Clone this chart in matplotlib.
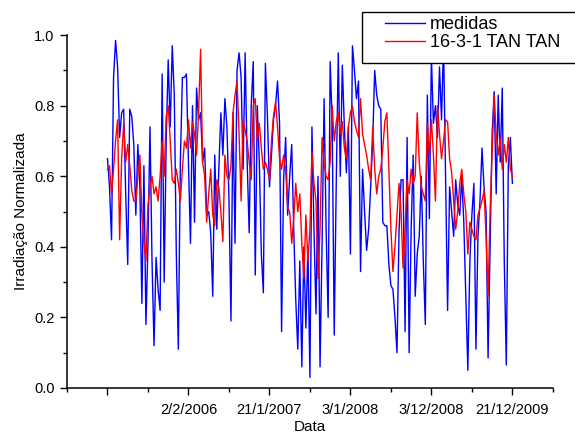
import numpy as np
import matplotlib
matplotlib.use('Agg')
import matplotlib.pyplot as plt
from matplotlib.patches import Rectangle

# tick labels (one labelled date every 40 samples)
tick_dates = ['', '2/2/2006', '21/1/2007', '3/1/2008', '3/12/2008', '21/12/2009']
step = 40

# measured normalised irradiation
medidas = [
    0.65, 0.57, 0.42, 0.88, 0.985, 0.91, 0.71, 0.78, 0.79, 0.55,
    0.35, 0.79, 0.77, 0.69, 0.49, 0.69, 0.57, 0.24, 0.63, 0.18,
    0.41, 0.74, 0.36, 0.12, 0.37, 0.28, 0.22, 0.89, 0.30, 0.70,
    0.93, 0.74, 0.97, 0.83, 0.38, 0.11, 0.64, 0.88, 0.88, 0.89,
    0.64, 0.41, 0.80, 0.47, 0.85, 0.76, 0.78, 0.64, 0.68, 0.49,
    0.50, 0.44, 0.26, 0.66, 0.45, 0.62, 0.78, 0.66, 0.82, 0.74,
    0.54, 0.19, 0.78, 0.41, 0.90, 0.95, 0.88, 0.62, 0.95, 0.64,
    0.44, 0.80, 0.925, 0.32, 0.80, 0.64, 0.38, 0.27, 0.92, 0.77,
    0.57, 0.66, 0.76, 0.80, 0.87, 0.75, 0.16, 0.59, 0.71, 0.49,
    0.60, 0.69, 0.45, 0.25, 0.11, 0.36, 0.06, 0.40, 0.17, 0.40,
    0.03, 0.74, 0.45, 0.21, 0.60, 0.06, 0.41, 0.82, 0.45, 0.20,
    0.925, 0.75, 0.15, 0.58, 0.95, 0.60, 0.915, 0.74, 0.61, 0.74,
    0.38, 0.97, 0.90, 0.82, 0.87, 0.33, 0.62, 0.50, 0.39, 0.45,
    0.57, 0.70, 0.90, 0.83, 0.80, 0.79, 0.47, 0.46, 0.46, 0.35,
    0.29, 0.28, 0.20, 0.10, 0.44, 0.59, 0.59, 0.16, 0.71, 0.10,
    0.45, 0.66, 0.26, 0.38, 0.43, 0.60, 0.36, 0.18, 0.83, 0.48,
    0.94, 0.75, 0.80, 0.71, 0.91, 0.76, 0.98, 0.61, 0.22, 0.57,
    0.50, 0.43, 0.59, 0.52, 0.49, 0.60, 0.47, 0.26, 0.05, 0.36,
    0.49, 0.58, 0.11, 0.43, 0.53, 0.68, 0.57, 0.50, 0.085, 0.40,
    0.72, 0.84, 0.55, 0.83, 0.64, 0.85, 0.36, 0.065, 0.63, 0.71,
    0.58,
]

# network output 16-3-1 TAN TAN
rede = [
    0.62, 0.63, 0.55, 0.62, 0.70, 0.76, 0.42, 0.65, 0.75, 0.64,
    0.69, 0.63, 0.56, 0.53, 0.53, 0.60, 0.66, 0.49, 0.41, 0.36,
    0.52, 0.57, 0.60, 0.55, 0.57, 0.53, 0.60, 0.70, 0.60, 0.77,
    0.80, 0.70, 0.59, 0.58, 0.62, 0.58, 0.53, 0.62, 0.70, 0.68,
    0.76, 0.68, 0.755, 0.72, 0.66, 0.78, 0.96, 0.64, 0.60, 0.47,
    0.55, 0.62, 0.49, 0.46, 0.59, 0.57, 0.50, 0.415, 0.66, 0.60,
    0.59, 0.63, 0.78, 0.83, 0.87, 0.72, 0.53, 0.76, 0.73, 0.70,
    0.64, 0.59, 0.80, 0.82, 0.70, 0.75, 0.68, 0.62, 0.64, 0.62,
    0.59, 0.70, 0.77, 0.81, 0.74, 0.65, 0.62, 0.66, 0.62, 0.51,
    0.50, 0.41, 0.48, 0.58, 0.50, 0.55, 0.41, 0.31, 0.49, 0.36,
    0.45, 0.67, 0.58, 0.53, 0.31, 0.45, 0.71, 0.64, 0.60, 0.59,
    0.64, 0.80, 0.70, 0.755, 0.78, 0.72, 0.755, 0.68, 0.65, 0.74,
    0.78, 0.80, 0.755, 0.73, 0.71, 0.82, 0.72, 0.69, 0.66, 0.62,
    0.59, 0.74, 0.62, 0.55, 0.60, 0.62, 0.68, 0.755, 0.78, 0.62,
    0.45, 0.33, 0.40, 0.49, 0.58, 0.50, 0.34, 0.45, 0.59, 0.55,
    0.62, 0.58, 0.60, 0.78, 0.64, 0.57, 0.55, 0.53, 0.75, 0.66,
    0.76, 0.66, 0.53, 0.80, 0.72, 0.65, 0.70, 0.76, 0.755, 0.65,
    0.61, 0.53, 0.45, 0.50, 0.58, 0.62, 0.55, 0.50, 0.38, 0.47,
    0.45, 0.43, 0.42, 0.49, 0.51, 0.53, 0.56, 0.43, 0.26, 0.50,
    0.67, 0.83, 0.72, 0.66, 0.71, 0.62, 0.69, 0.64, 0.71, 0.62,
    0.60,
]

plt.rcParams['font.family'] = ['Liberation Sans', 'DejaVu Sans']

x = np.arange(len(medidas))

fig = plt.figure(figsize=(5.75, 4.34), dpi=100)
ax = fig.add_axes([0.1165, 0.106, 0.845, 0.813])

l1, = ax.plot(x, medidas, color='#0000FF', lw=1.0, label='medidas')
l2, = ax.plot(x, rede, color='#FF0000', lw=1.0, label='16-3-1 TAN TAN')

ax.set_xlim(-step / 2, len(medidas) - 1 + step / 2)
ax.set_ylim(0, 1.0)

ax.set_xticks(np.arange(0, len(medidas), step))
ax.set_xticklabels(tick_dates)
ax.set_xticks(np.arange(-step / 2, len(medidas) + step / 2, step), minor=True)
ax.set_yticks(np.arange(0, 1.01, 0.2))
ax.set_yticklabels([f'{v:.1f}' for v in np.arange(0, 1.01, 0.2)])
ax.set_yticks(np.arange(0.1, 1.0, 0.2), minor=True)

for side in ['top', 'right']:
    ax.spines[side].set_visible(False)
for side in ['left', 'bottom']:
    ax.spines[side].set_linewidth(1.1)

ax.tick_params(which='major', direction='out', length=5, width=1.0, labelsize=10.5)
ax.tick_params(axis='x', which='major', pad=6)
ax.tick_params(axis='y', which='major', pad=4)
ax.tick_params(which='minor', direction='out', length=3, width=1.0)

ax.set_xlabel('Data', fontsize=11, labelpad=2)
ax.set_ylabel('Irradiação Normalizada', fontsize=11, labelpad=4)

# legend box runs off the right edge, like the original
box = Rectangle((0.6296, 0.854), 0.5, 0.119, transform=fig.transFigure,
                facecolor='white', edgecolor='black', lw=1.0, zorder=3)
fig.add_artist(box)
fig.legend(handles=[l1, l2], loc='upper left', bbox_to_anchor=(0.6696, 0.962),
           frameon=False, fontsize=13, handlelength=2.2, handletextpad=0.3,
           borderpad=0, borderaxespad=0, labelspacing=0.05).set_zorder(5)

fig.savefig('out.png', dpi=100)
